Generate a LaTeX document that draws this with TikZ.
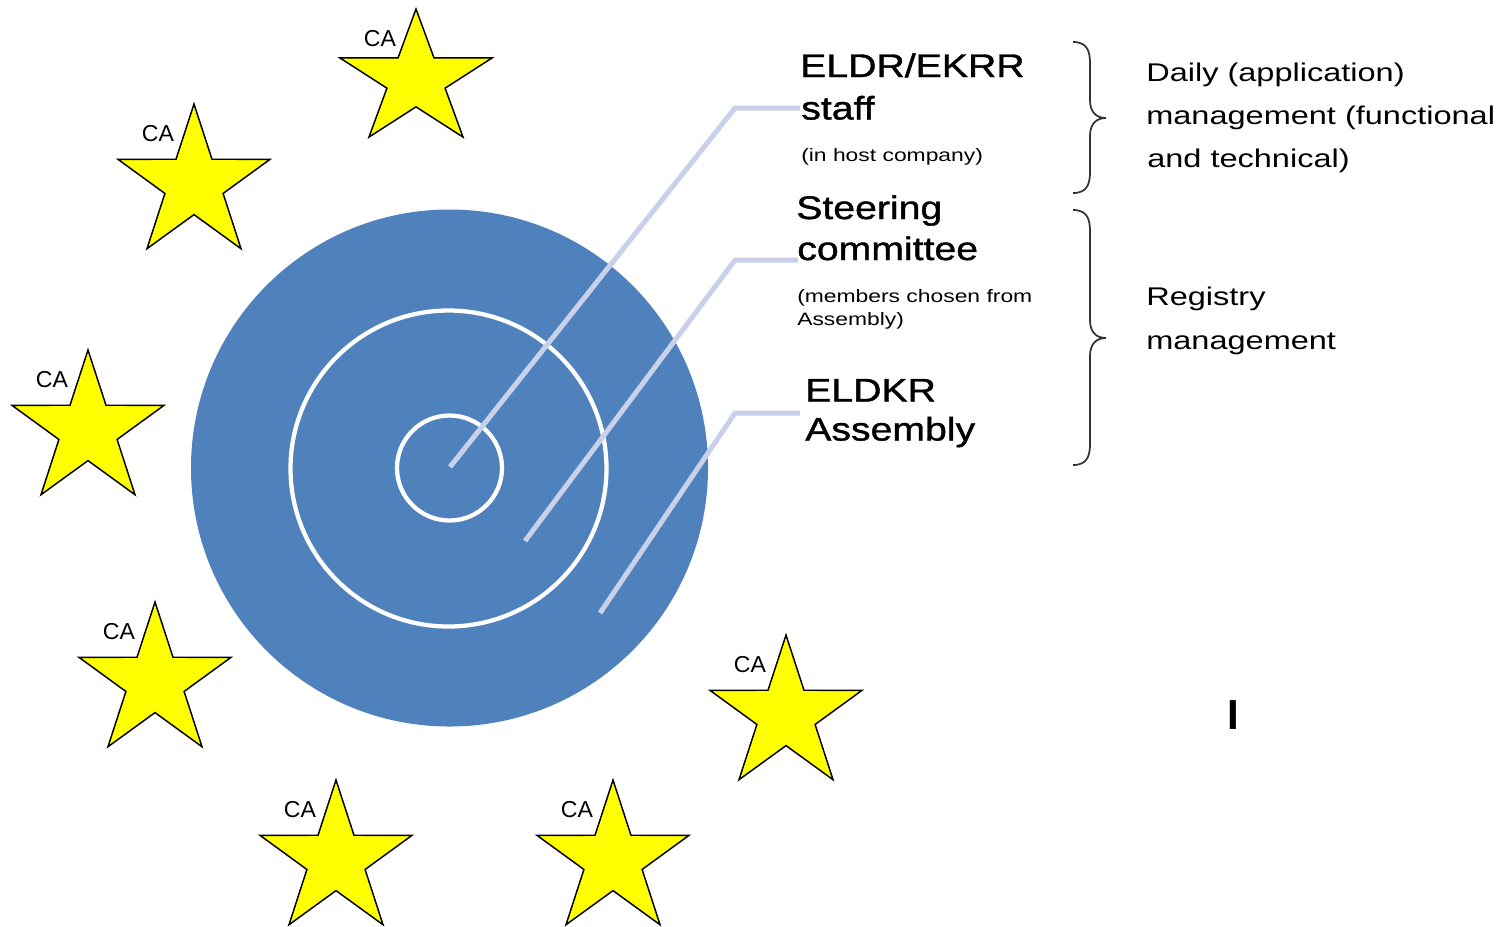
\documentclass[tikz,border=0pt]{standalone}
\usepackage{fontspec}
\setmainfont{Liberation Sans}
\newfontfamily\lblfont[FakeStretch=1.2,FakeBold=1.2]{Liberation Sans}
\newfontfamily\widefont[FakeStretch=1.27]{Liberation Sans}
\newfontfamily\plainfont{Liberation Sans}
\definecolor{diskblue}{RGB}{79,129,189}
\definecolor{connlav}{RGB}{200,208,234}
\definecolor{staryellow}{RGB}{255,255,0}
\tikzset{
  starline/.style={draw=black, fill=staryellow, line width=1.1pt, line join=miter},
  calabel/.style={font=\plainfont\fontsize{17.3pt}{20pt}\selectfont, inner sep=0pt, anchor=center},
  biglbl/.style={font=\lblfont\fontsize{24.5pt}{30pt}\selectfont, inner sep=0pt, anchor=base west},
  smalllbl/.style={font=\widefont\fontsize{13.5pt}{16pt}\selectfont, inner sep=0pt, anchor=base west},
  rightlbl/.style={font=\widefont\fontsize{19.2pt}{23pt}\selectfont, inner sep=0pt, anchor=base west},
  conn/.style={draw=connlav, line width=3.75pt},
  ring/.style={circle, draw=white, line width=3.2pt, inner sep=0pt},
  bracepath/.style={draw=black!80, line width=1.3pt},
}
\newcommand\castar[4]{%
  \begin{scope}[shift={(#2,#3)}]
    \path[starline, yscale=#4] (0,0) -- (17.99,55.24) -- (76.08,55.28) -- (29.10,89.46) -- (47.02,144.72) -- (0,110.6) -- (-47.02,144.72) -- (-29.10,89.46) -- (-76.08,55.28) -- (-17.99,55.24) -- cycle;
  \end{scope}
  \node[calabel] (#1) at (#2-36,#3+30) {CA};
}
\begin{document}
\begin{tikzpicture}[x=0.75pt,y=-0.75pt]
\useasboundingbox[fill=white] (0,0) rectangle (1505,926);

% stars
\castar{ca1}{416}{9}{0.885}
\castar{ca2}{194}{104}{1}
\castar{ca3}{88}{350}{1}
\castar{ca4}{155}{602}{1}
\castar{ca5}{336}{780}{1}
\castar{ca6}{613}{780}{1}
\castar{ca7}{786}{635}{1}

% disk and rings
\node[circle, fill=diskblue, minimum size=387.75pt, inner sep=0pt] (disk) at (449.5,468) {};
\node[ring, minimum size=237pt] (ring2) at (448.5,468.5) {};
\node[ring, minimum size=78.75pt] (ring1) at (449.5,468) {};

% connectors
\coordinate (s1) at (450,467);
\coordinate (k1) at (735,108);
\coordinate (e1) at (800,108);
\coordinate (s2) at (525,541);
\coordinate (k2) at (735,260);
\coordinate (e2) at (798,260);
\coordinate (s3) at (600,613);
\coordinate (k3) at (735,413);
\coordinate (e3) at (800,413);
\draw[conn] (s1) -- (k1) -- (e1);
\draw[conn] (s2) -- (k2) -- (e2);
\draw[conn] (s3) -- (k3) -- (e3);

% left labels
\node[biglbl] (eldr) at (800,77) {ELDR/EKRR};
\node[biglbl] (staff) at (801,119.5) {staff};
\node[smalllbl] (host) at (801,161.5) {(in host company)};
\node[biglbl] (steer) at (796,219) {Steering};
\node[biglbl] (comm) at (797,260) {committee};
\node[smalllbl] (memb) at (797,302) {(members chosen from};
\node[smalllbl] (memb2) at (797,325) {Assembly)};
\node[biglbl] (eldkr) at (805,401.5) {ELDKR};
\node[biglbl] (assem) at (805,440.5) {Assembly};

% braces
\draw[bracepath] (1073,42) .. controls (1088,42) and (1090,52) .. (1090,64) -- (1090,100) .. controls (1090,112) and (1096,118) .. (1106,118) .. controls (1096,118) and (1090,124) .. (1090,136) -- (1090,171) .. controls (1090,183) and (1088,193) .. (1073,193);
\draw[bracepath] (1073,210) .. controls (1088,210) and (1090,220) .. (1090,232) -- (1090,320) .. controls (1090,332) and (1096,338) .. (1106,338) .. controls (1096,338) and (1090,344) .. (1090,356) -- (1090,443) .. controls (1090,455) and (1088,465) .. (1073,465);

% right labels
\node[rightlbl] (daily1) at (1146,81) {Daily (application)};
\node[rightlbl] (daily2) at (1146,124) {management (functional};
\node[rightlbl] (daily3) at (1147,167) {and technical)};
\node[rightlbl] (reg1) at (1146,305) {Registry};
\node[rightlbl] (reg2) at (1146,349) {management};

% cursor mark
\node[font=\plainfont\bfseries\fontsize{31.5pt}{36pt}\selectfont, inner sep=0pt, anchor=base] (cursor) at (1233.5,729) {I};
\end{tikzpicture}
\end{document}
